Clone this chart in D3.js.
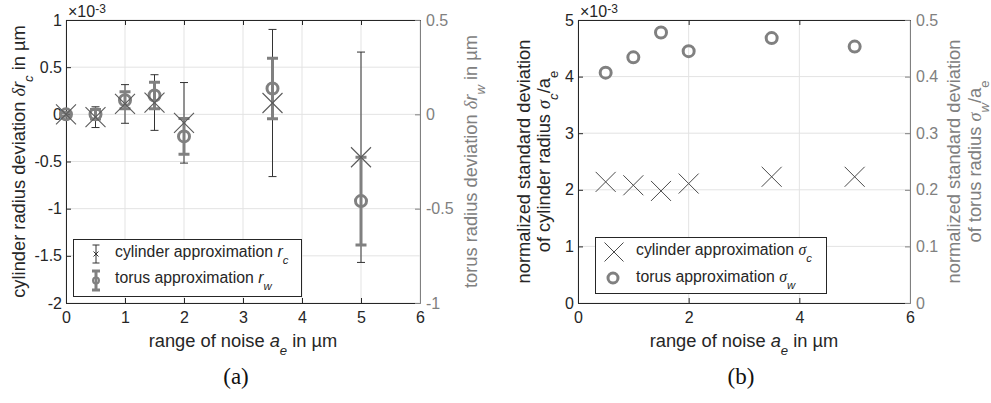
<!DOCTYPE html>
<html>
<head>
<meta charset="utf-8">
<script src="https://cdn.jsdelivr.net/npm/d3@7"></script>
<style>
  body { margin: 0; background: #fff; }
  svg { font-family: "Liberation Sans", Arial, Helvetica, sans-serif; }
</style>
</head>
<body>
<script>
// ---- data, panel (a): radius deviation vs noise range
const noiseA = [0, 0.5, 1, 1.5, 2, 3.5, 5];
const cylDev = [0, -0.03, 0.11, 0.125, -0.09, 0.12, -0.455];      // x1e-3 µm, left axis
const cylErr = [0.01, 0.11, 0.205, 0.295, 0.427, 0.78, 1.115];
const torDev = [0, 0, 0.075, 0.1, -0.117, 0.137, -0.46];          // right axis
const torErr = [0.01, 0.025, 0.045, 0.07, 0.095, 0.16, 0.232];

// ---- data, panel (b): normalized standard deviation
const noiseB = [0.5, 1, 1.5, 2, 3.5, 5];
const cylStd = [2.14, 2.08, 1.98, 2.11, 2.23, 2.23];              // x1e-3, left axis
const torStd = [0.407, 0.434, 0.478, 0.445, 0.468, 0.453];        // right axis

// tick values
const ticksAx = [0, 1, 2, 3, 4, 5, 6];
const ticksAyL = [-2, -1.5, -1, -0.5, 0, 0.5, 1];
const ticksAyR = [-1, -0.5, 0, 0.5];
const ticksBx = [0, 2, 4, 6];
const ticksByL = [0, 1, 2, 3, 4, 5];
const ticksByR = [0, 0.1, 0.2, 0.3, 0.4, 0.5];

const dark = "#262626", gray = "#808080", gridC = "#e3e3e3";
const fmt = d => String(d);
const tickFs = 16, labFs = 18.3, legFs = 15.8;
const serif = "'Liberation Serif', 'DejaVu Serif', serif";

const svg = d3.select("body").append("svg")
  .attr("width", 991)
  .attr("height", 403);

// text with italic / sub / sup parts
function rich(sel, parts, size, supShift = 0.4, subSize = 0.72) {
  let off = 0;
  parts.forEach(p => {
    const target = p.sub ? size * 0.42 : p.sup ? -size * supShift : 0;
    const ts = sel.append("tspan").text(p.t).attr("dy", target - off);
    off = target;
    if (p.sub || p.sup) ts.attr("font-size", size * subSize);
    if (p.it) ts.attr("font-style", "italic");
    if (p.serif) ts.attr("font-family", serif);
  });
}

function styleAxis(g, color, size) {
  g.attr("font-family", null).attr("font-size", size);
  g.select(".domain").attr("stroke", color);
  g.selectAll(".tick line").attr("stroke", color);
  g.selectAll(".tick text").attr("fill", color);
}

function drawFrame(x, yl, yr, xt, ylt, yrt) {
  const [x0, x1] = x.range(), [y0, y1] = yl.range();
  // grid
  svg.append("g").selectAll("line").data(xt).join("line")
    .attr("x1", d => x(d)).attr("x2", d => x(d))
    .attr("y1", y0).attr("y2", y1)
    .attr("stroke", gridC);
  svg.append("g").selectAll("line").data(ylt).join("line")
    .attr("x1", x0).attr("x2", x1)
    .attr("y1", d => yl(d)).attr("y2", d => yl(d))
    .attr("stroke", gridC);

  svg.append("g").attr("transform", `translate(0,${y0})`)
    .call(d3.axisBottom(x).tickValues(xt).tickSizeInner(-5).tickSizeOuter(0).tickPadding(9).tickFormat(fmt))
    .call(g => styleAxis(g, dark, tickFs));
  svg.append("g").attr("transform", `translate(0,${y1})`)
    .call(d3.axisTop(x).tickValues(xt).tickSizeInner(-5).tickSizeOuter(0).tickFormat(""))
    .call(g => styleAxis(g, dark, tickFs));
  svg.append("g").attr("transform", `translate(${x0},0)`)
    .call(d3.axisLeft(yl).tickValues(ylt).tickSizeInner(-5).tickSizeOuter(0).tickPadding(4).tickFormat(fmt))
    .call(g => styleAxis(g, dark, tickFs));
  svg.append("g").attr("transform", `translate(${x1},0)`)
    .call(d3.axisRight(yr).tickValues(yrt).tickSizeInner(-5).tickSizeOuter(0).tickPadding(6).tickFormat(fmt))
    .call(g => styleAxis(g, gray, tickFs));

  // x10^-3 multiplier
  const m = svg.append("text").attr("x", x0 + 2).attr("y", 17)
    .attr("font-size", 16).attr("fill", dark);
  rich(m, [{t: "\u00d710"}, {t: "-3", sup: true}], 16, 0.25, 0.75);
}

function cross(g, cx, cy, h, color, w) {
  g.append("path")
    .attr("d", `M${cx - h},${cy - h}L${cx + h},${cy + h}M${cx - h},${cy + h}L${cx + h},${cy - h}`)
    .attr("stroke", color).attr("stroke-width", w).attr("fill", "none");
}

function errbar(g, cx, yTop, yBot, cap, color, w) {
  g.append("path")
    .attr("d", `M${cx},${yTop}V${yBot}M${cx - cap},${yTop}H${cx + cap}M${cx - cap},${yBot}H${cx + cap}`)
    .attr("stroke", color).attr("stroke-width", w).attr("fill", "none");
}

function rotLabel(x, color, parts) {
  const t = svg.append("text").attr("transform", `translate(${x},161.5) rotate(-90)`)
    .attr("text-anchor", "middle").attr("font-size", labFs).attr("fill", color);
  rich(t, parts, labFs);
}

// ================= panel (a)
const xa = d3.scaleLinear().domain([0, 6]).range([66, 420]);
const yaL = d3.scaleLinear().domain([-2, 1]).range([303, 20]);
const yaR = d3.scaleLinear().domain([-1, 0.5]).range([303, 20]);
drawFrame(xa, yaL, yaR, ticksAx, ticksAyL, ticksAyR);

const gA = svg.append("g");
noiseA.forEach((n, i) => {
  errbar(gA, xa(n), yaL(cylDev[i] + cylErr[i]), yaL(cylDev[i] - cylErr[i]), 4, "#333", 1);
});
noiseA.forEach((n, i) => {
  errbar(gA, xa(n), yaR(torDev[i] + torErr[i]), yaR(torDev[i] - torErr[i]), 5.5, gray, 3);
});
gA.selectAll("circle").data(noiseA).join("circle")
  .attr("cx", d => xa(d))
  .attr("cy", (d, i) => yaR(torDev[i]))
  .attr("r", 5.5)
  .attr("fill", "none").attr("stroke", gray).attr("stroke-width", 3);
noiseA.forEach((n, i) => cross(gA, xa(n), yaL(cylDev[i]), 10, "#5a5a5a", 1.1));

// labels (a)
rotLabel(25, dark, [{t: "cylinder radius deviation "}, {t: "\u03b4", it: true, serif: true}, {t: "r", it: true}, {t: "c", sub: true, it: true}, {t: " in \u00b5m"}]);
rotLabel(477, gray, [{t: "torus radius deviation "}, {t: "\u03b4", it: true, serif: true}, {t: "r", it: true}, {t: "w", sub: true, it: true}, {t: " in \u00b5m"}]);

function xLabel(cx) {
  const t = svg.append("text").attr("x", cx).attr("y", 347)
    .attr("text-anchor", "middle").attr("font-size", labFs).attr("fill", dark);
  rich(t, [{t: "range of noise "}, {t: "a", it: true}, {t: "e", sub: true, it: true}, {t: " in \u00b5m"}], labFs);
}
xLabel(243);

function caption(cx, s) {
  svg.append("text").attr("x", cx).attr("y", 384).attr("text-anchor", "middle")
    .style("font-family", serif).attr("font-size", 23).attr("fill", "#111")
    .text(s);
}
caption(236, "(a)");

// legend (a)
const lgA = svg.append("g");
lgA.append("rect").attr("x", 73.5).attr("y", 239.5).attr("width", 228).attr("height", 57)
  .attr("fill", "#fff").attr("stroke", dark);
errbar(lgA, 96, 245, 263, 3.5, "#333", 1);
cross(lgA, 96, 254, 2.5, "#333", 1);
errbar(lgA, 96, 271, 290, 4, gray, 3);
lgA.append("circle").attr("cx", 96).attr("cy", 280.5).attr("r", 3)
  .attr("fill", "none").attr("stroke", gray).attr("stroke-width", 2);
const lt1 = lgA.append("text").attr("x", 115).attr("y", 257).attr("font-size", legFs).attr("fill", dark);
rich(lt1, [{t: "cylinder approximation "}, {t: "r", it: true}, {t: "c", sub: true, it: true}], legFs);
const lt2 = lgA.append("text").attr("x", 115).attr("y", 283).attr("font-size", legFs).attr("fill", dark);
rich(lt2, [{t: "torus approximation "}, {t: "r", it: true}, {t: "w", sub: true, it: true}], legFs);

// ================= panel (b)
const xb = d3.scaleLinear().domain([0, 6]).range([578, 910]);
const ybL = d3.scaleLinear().domain([0, 5]).range([303, 20]);
const ybR = d3.scaleLinear().domain([0, 0.5]).range([303, 20]);
drawFrame(xb, ybL, ybR, ticksBx, ticksByL, ticksByR);

const gB = svg.append("g");
noiseB.forEach((n, i) => cross(gB, xb(n), ybL(cylStd[i]), 10, "#4a4a4a", 1));
gB.selectAll("circle").data(noiseB).join("circle")
  .attr("cx", d => xb(d))
  .attr("cy", (d, i) => ybR(torStd[i]))
  .attr("r", 5.5)
  .attr("fill", "none").attr("stroke", gray).attr("stroke-width", 3);

// labels (b)
rotLabel(530, dark, [{t: "normalized standard deviation"}]);
rotLabel(550, dark, [{t: "of cylinder radius "}, {t: "\u03c3", it: true, serif: true}, {t: "c", sub: true, it: true}, {t: "/a"}, {t: "e", sub: true}]);
rotLabel(960, gray, [{t: "normalized standard deviation"}]);
rotLabel(981, gray, [{t: "of torus radius "}, {t: "\u03c3", it: true, serif: true}, {t: "w", sub: true, it: true}, {t: "/a"}, {t: "e", sub: true}]);

xLabel(744);
caption(741, "(b)");

// legend (b)
const lgB = svg.append("g");
lgB.append("rect").attr("x", 595.5).attr("y", 237.5).attr("width", 231).attr("height", 56)
  .attr("fill", "#fff").attr("stroke", dark);
cross(lgB, 614, 252, 9.5, "#4a4a4a", 1);
lgB.append("circle").attr("cx", 613).attr("cy", 278).attr("r", 5)
  .attr("fill", "none").attr("stroke", gray).attr("stroke-width", 3);
const lt3 = lgB.append("text").attr("x", 636).attr("y", 255).attr("font-size", legFs).attr("fill", dark);
rich(lt3, [{t: "cylinder approximation "}, {t: "\u03c3", it: true, serif: true}, {t: "c", sub: true, it: true}], legFs);
const lt4 = lgB.append("text").attr("x", 636).attr("y", 282).attr("font-size", legFs).attr("fill", dark);
rich(lt4, [{t: "torus approximation "}, {t: "\u03c3", it: true, serif: true}, {t: "w", sub: true, it: true}], legFs);
</script>
</body>
</html>
